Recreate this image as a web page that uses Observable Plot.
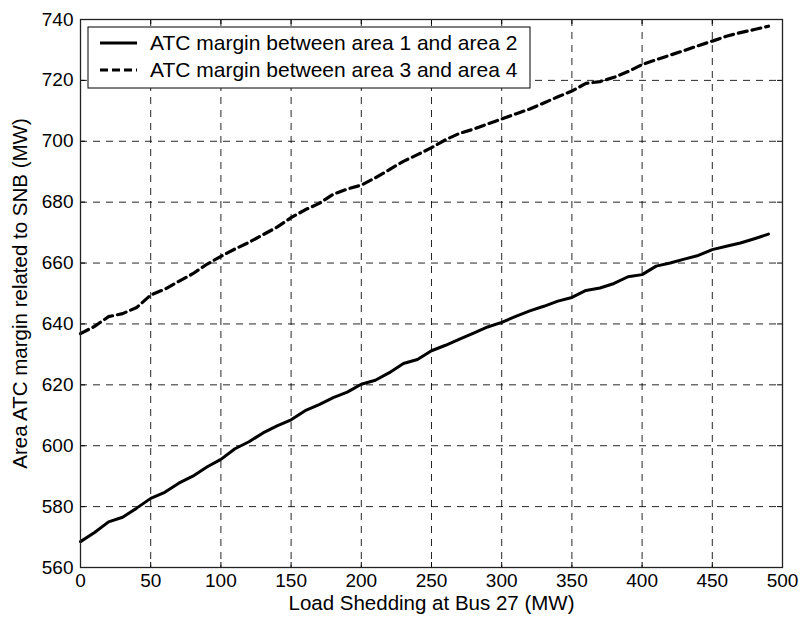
<!DOCTYPE html>
<html>
<head>
<meta charset="utf-8">
<script src="https://cdn.jsdelivr.net/npm/d3@7"></script>
<script src="https://cdn.jsdelivr.net/npm/@observablehq/plot@0.6"></script>
<style>
  html, body { margin: 0; padding: 0; background: #fff; }
  #chart { position: relative; width: 803px; height: 622px; }
</style>
</head>
<body>
<div id="chart"></div>
<script>
// ---- data ----
const loadShed = [0,10,20,30,40,50,60,70,80,90,100,110,120,130,140,150,160,170,180,190,200,210,220,230,240,250,260,270,280,290,300,310,320,330,340,350,360,370,380,390,400,410,420,430,440,450,460,470,480,490];
const area12 = [568.5,571.5,575,576.5,579.5,582.7,584.7,587.7,590,593,595.5,599,601.3,604.2,606.5,608.5,611.5,613.5,615.8,617.6,620.2,621.5,624,627,628.3,631.2,633,635,637,639,640.5,642.5,644.3,645.8,647.5,648.7,651,651.8,653.3,655.5,656.2,659,660,661.3,662.5,664.4,665.5,666.6,668,669.5];
const area34 = [636.8,639.2,642.4,643.4,645.4,649.5,651.4,654,656.5,659.6,662.2,664.6,666.8,669.3,671.8,674.9,677.5,679.6,682.6,684.3,685.6,688,690.7,693.4,695.6,697.9,700.5,702.6,704,705.7,707.3,709,710.6,712.6,714.6,716.5,719,719.6,721,722.9,725.2,726.8,728.3,729.8,731.4,732.9,734.5,735.7,736.7,737.8];
const xTicks = [0,50,100,150,200,250,300,350,400,450,500];
const yTicks = [560,580,600,620,640,660,680,700,720,740];
const seriesNames = ["ATC margin between area 1 and area 2", "ATC margin between area 3 and area 4"];
const xLabel = "Load Shedding at Bus 27 (MW)";
const yLabel = "Area ATC margin related to SNB (MW)";

const s1 = loadShed.map((x, i) => ({x, y: area12[i]}));
const s2 = loadShed.map((x, i) => ({x, y: area34[i]}));

// ---- layout ----
const W = 803, H = 622, mL = 80, mR = 21, mT = 19, mB = 55;
const innerW = W - mL - mR, innerH = H - mT - mB;
const font = '"Liberation Sans", Arial, Helvetica, sans-serif';
const gridStyle = {stroke: "#000", strokeOpacity: 0.85, strokeWidth: 1, strokeDasharray: "7,6"};
const tk = 5;

const chart = Plot.plot({
  width: W, height: H,
  marginLeft: mL, marginRight: mR, marginTop: mT, marginBottom: mB,
  style: {fontFamily: font, fontSize: "19px", background: "#fff", color: "#000", overflow: "visible"},
  x: {domain: [0, 500], ticks: xTicks, label: null},
  y: {domain: [560, 740], ticks: yTicks, label: null},
  marks: [
    Plot.gridX(xTicks, gridStyle),
    Plot.gridY(yTicks, gridStyle),
    Plot.tickX(xTicks, {x: d => d, insetTop: innerH - tk, stroke: "#000"}),
    Plot.tickX(xTicks, {x: d => d, insetBottom: innerH - tk, stroke: "#000"}),
    Plot.tickY(yTicks, {y: d => d, insetRight: innerW - tk, stroke: "#000"}),
    Plot.tickY(yTicks, {y: d => d, insetLeft: innerW - tk, stroke: "#000"}),
    Plot.line(s1, {x: "x", y: "y", stroke: "#000", strokeWidth: 3}),
    Plot.line(s2, {x: "x", y: "y", stroke: "#000", strokeWidth: 3.2, strokeDasharray: "9,5"}),
    Plot.frame({stroke: "#222", strokeWidth: 1.3}),
    Plot.axisX(xTicks, {tickSize: 0, tickPadding: 6, fontSize: 19}),
    Plot.axisY(yTicks, {tickSize: 0, tickPadding: 7, fontSize: 19}),
    Plot.text([xLabel], {frameAnchor: "bottom", dy: 42, fontSize: 20.5, textAnchor: "middle"}),
    Plot.text([yLabel], {frameAnchor: "left", dx: -60, rotate: -90, fontSize: 20.5, textAnchor: "middle"})
  ]
});

// ---- legend (inside plot, upper-left) ----
const svg = d3.select(chart);
const lg = svg.append("g").attr("font-family", font).attr("font-size", 21).attr("text-anchor", "start");
lg.append("rect").attr("x", 88).attr("y", 27).attr("width", 442).attr("height", 61)
  .attr("fill", "#fff").attr("stroke", "#000").attr("stroke-width", 1);
const rows = [
  {name: seriesNames[0], dash: null, y: 43},
  {name: seriesNames[1], dash: "8,4", y: 70}
];
rows.forEach(r => {
  const ln = lg.append("line").attr("x1", 100).attr("x2", 137).attr("y1", r.y).attr("y2", r.y)
    .attr("stroke", "#000").attr("stroke-width", 3);
  if (r.dash) ln.attr("stroke-dasharray", r.dash);
  lg.append("text").attr("x", 150).attr("y", r.y).attr("dy", "0.35em").attr("text-anchor", "start").text(r.name);
});

document.getElementById("chart").appendChild(chart);
</script>
</body>
</html>
